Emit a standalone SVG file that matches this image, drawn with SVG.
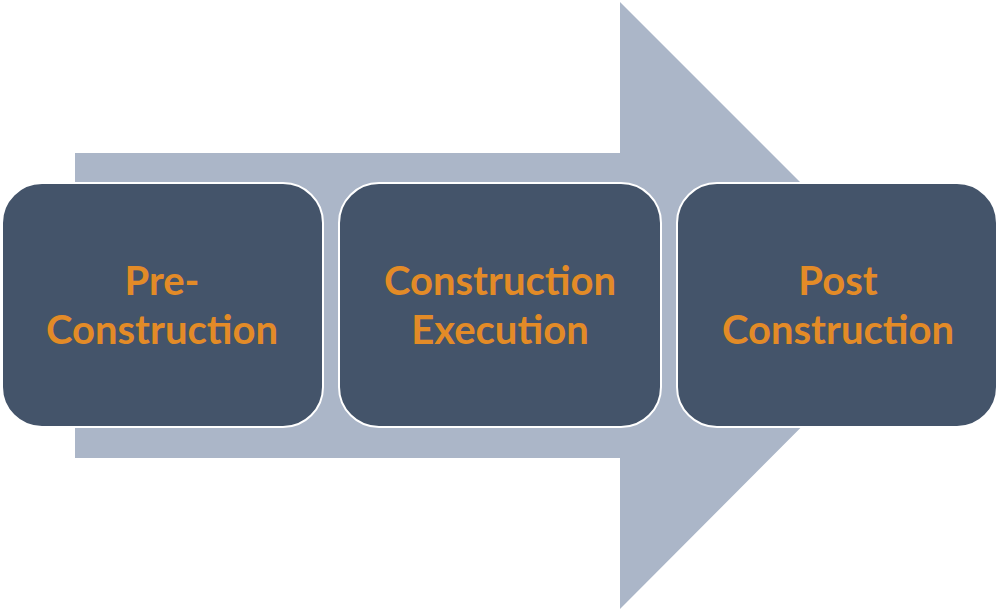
<svg xmlns="http://www.w3.org/2000/svg" width="1000" height="611" viewBox="0 0 1000 611">
<style>
.box{fill:#44546A;stroke:#FFFFFF;stroke-width:2}
.t{font-family:Lato,"Liberation Sans",sans-serif;font-weight:bold;font-size:40px;fill:#E38B27;text-anchor:middle}
</style>
<rect width="1000" height="611" fill="#FFFFFF"/>
<g id="connectors">
<polygon points="75,153 620,153 620,2 923,305 620,609 620,458 75,458" fill="#ABB6C8"/>
</g>
<g id="node1"><rect class="box" x="2" y="183" width="321" height="244" rx="40"/>
<text class="t" x="162" y="295">Pre-</text><text class="t" x="162" y="344">Construction</text></g>
<g id="node2"><rect class="box" x="339" y="183" width="322" height="244" rx="40"/>
<text class="t" x="500" y="295">Construction</text><text class="t" x="500" y="344">Execution</text></g>
<g id="node3"><rect class="box" x="677" y="183" width="320" height="244" rx="40"/>
<text class="t" x="838" y="295">Post</text><text class="t" x="838" y="344">Construction</text></g>
</svg>
